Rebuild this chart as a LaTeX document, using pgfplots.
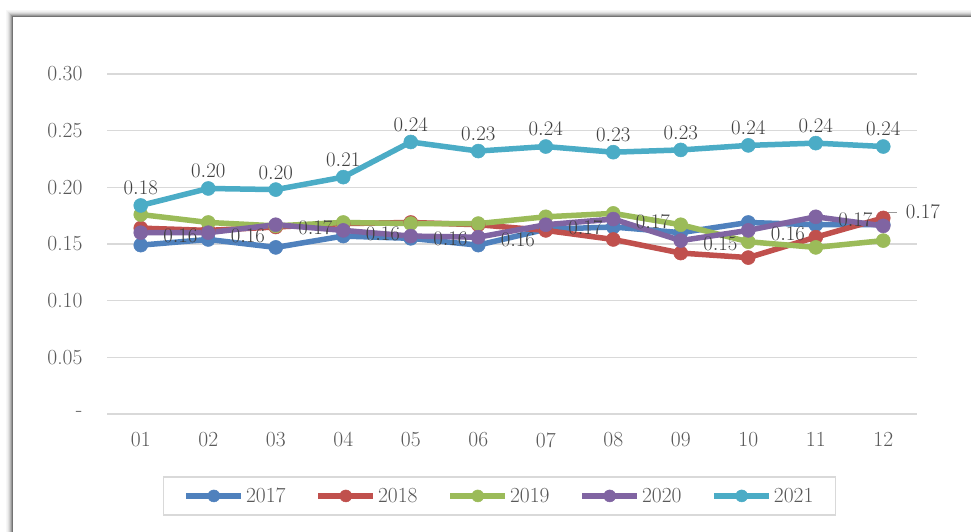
\documentclass[border=0pt]{standalone}
\usepackage{fontspec}
\usepackage{pgfplots}
\pgfplotsset{compat=1.18}
\usepackage{pgfplotstable}
\definecolor{cA}{HTML}{4F81BD}
\definecolor{cB}{HTML}{C0504D}
\definecolor{cC}{HTML}{9BBB59}
\definecolor{cD}{HTML}{8064A2}
\definecolor{cE}{HTML}{4BACC6}
\definecolor{gridc}{HTML}{D9D9D9}
\definecolor{tickc}{HTML}{595959}
\definecolor{labc}{HTML}{404040}
\newcommand\fnt{\fontsize{21.5}{24}\selectfont}

\pgfplotstableread{
x y
1 0.149
2 0.154
3 0.147
4 0.157
5 0.155
6 0.149
7 0.163
8 0.165
9 0.160
10 0.169
11 0.167
12 0.167
}\tA
\pgfplotstableread{
x y
1 0.164
2 0.162
3 0.165
4 0.168
5 0.169
6 0.167
7 0.162
8 0.154
9 0.142
10 0.138
11 0.156
12 0.173
}\tB
\pgfplotstableread{
x y
1 0.176
2 0.169
3 0.166
4 0.169
5 0.168
6 0.168
7 0.174
8 0.177
9 0.167
10 0.152
11 0.147
12 0.153
}\tC
\pgfplotstableread{
x y dy
1 0.160 -3
2 0.160 -3
3 0.167 -3
4 0.162 -3
5 0.157 -3
6 0.156 -3
7 0.167 -3
8 0.172 -3
9 0.153 -3
10 0.162 -3
11 0.174 -3
12 0.166 14
}\tD
\pgfplotstableread{
x y
1 0.184
2 0.199
3 0.198
4 0.209
5 0.240
6 0.232
7 0.236
8 0.231
9 0.233
10 0.237
11 0.239
12 0.236
}\tE

\begin{document}
\begin{tikzpicture}[x=1pt,y=1pt]
\useasboundingbox (-107,-118) rectangle (864,414);
\clip (-107,-118) rectangle (864,414);
\fill[white] (-107,-118) rectangle (864,414);
\foreach \i/\o in {0/0.55,1/0.4,2/0.28,3/0.18,4/0.11,5/0.06,6/0.03} {
  \draw[black, opacity=\o, line width=1pt] (-94-\i,-130) -- (-94-\i,397+\i) -- (880,397+\i);
}
\begin{axis}[
  at={(0pt,0pt)}, anchor=south west,
  scale only axis, width=810pt, height=340pt,
  xmin=0.5, xmax=12.5, ymin=0, ymax=0.30,
  axis line style={draw=none},
  major tick length=0pt,
  ymajorgrids, grid style={gridc, line width=1.5pt},
  xtick={1,...,12},
  xticklabel={\ifnum\ticknum<9 0\fi\pgfmathprintnumber[assume math mode=true,int detect]{\tick}},
  ytick={0,0.05,0.1,0.15,0.2,0.25,0.3},
  yticklabel={\ifdim\tick pt<0.01pt -\hspace{11pt}\else\pgfmathprintnumber[assume math mode=true,fixed,fixed zerofill,precision=2]{\tick}\fi},
  tick label style={font=\fnt, text=tickc},
  yticklabel style={font=\fnt, text=tickc, xshift=-21pt},
  xticklabel style={font=\fnt, text=tickc, yshift=-15pt},
  every axis plot/.append style={line width=5.5pt, mark=*, mark size=7pt, mark options={line width=0.5pt}},
  clip=false,
  legend columns=5,
  legend style={at={(0.4846,-0.241)}, anchor=center, draw=gridc, line width=1.5pt,
    font=\fnt, text=tickc, inner xsep=20pt, inner ysep=10pt,
    /tikz/every even column/.append style={column sep=28pt},
    nodes={inner xsep=2pt, inner ysep=1pt}},
  legend image code/.code={\draw[mark repeat=2,mark phase=2,#1,mark size=6pt] plot coordinates {(0pt,0pt) (27.5pt,0pt) (55pt,0pt)};},
]
\addplot[cA] table {\tA};
\addplot[cB] table {\tB};
\addplot[cC] table {\tC};
\addplot[cD,
  visualization depends on={\thisrow{dy} \as \dy},
  nodes near coords={\pgfmathprintnumber[fixed,fixed zerofill,precision=2]{\pgfplotspointmeta}},
  every node near coord/.append style={font=\fnt, text=labc, anchor=west, xshift=19pt, yshift=\dy pt}
] table {\tD};
\addplot[cE,
  nodes near coords={\pgfmathprintnumber[fixed,fixed zerofill,precision=2]{\pgfplotspointmeta}},
  every node near coord/.append style={font=\fnt, text=labc, anchor=south, yshift=7pt}
] table {\tE};
\draw[gray!80, line width=1pt] (axis cs:12,0.1685) -- (axis cs:12,0.1774) -- (axis cs:12.2,0.1774);
\legend{2017,2018,2019,2020,2021}
\end{axis}
\end{tikzpicture}
\end{document}
